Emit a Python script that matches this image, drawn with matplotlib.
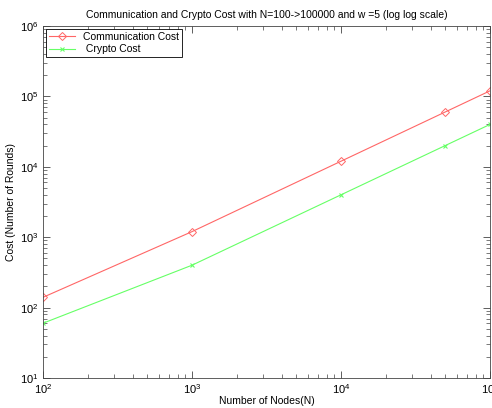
import matplotlib.pyplot as plt
from matplotlib.ticker import LogLocator, NullFormatter

plt.rcParams['font.family'] = ['Liberation Sans', 'DejaVu Sans']
plt.rcParams['font.size'] = 7.5

nodes = [100, 1000, 10000, 50000, 100000]
comm_cost = [140, 1200, 12000, 60000, 120000]
crypto_cost = [60, 400, 4000, 20000, 40000]

fig = plt.figure(figsize=(4.92, 4.08), dpi=100)
ax = fig.add_axes([43 / 492, 30 / 408, 447 / 492, 352 / 408])

ax.plot(nodes, comm_cost, color='#ff6666', lw=0.8, marker='D', ms=4.5,
        mfc='none', mec='#ff6666', mew=0.7, label='Communication Cost')
ax.plot(nodes, crypto_cost, color='#66ff66', lw=0.8, marker='x', ms=3,
        mew=0.8, label=' Crypto Cost')

ax.set_xscale('log')
ax.set_yscale('log')
ax.set_xlim(100, 100000)
ax.set_ylim(10, 1e6)
ax.xaxis.set_major_locator(LogLocator(base=10))
ax.yaxis.set_major_locator(LogLocator(base=10))
ax.xaxis.set_minor_locator(LogLocator(base=10, subs=range(2, 10)))
ax.yaxis.set_minor_locator(LogLocator(base=10, subs=range(2, 10)))
ax.xaxis.set_minor_formatter(NullFormatter())
ax.yaxis.set_minor_formatter(NullFormatter())
ax.tick_params(which='both', direction='in', top=True, right=True,
               color='#444444', labelsize=8)
ax.tick_params(axis='x', pad=3)
ax.tick_params(axis='y', pad=3)
ax.tick_params(which='major', length=5, width=0.6)
ax.tick_params(which='minor', length=3, width=0.5)
for s in ax.spines.values():
    s.set_linewidth(0.6)
    s.set_color('#444444')

ax.set_title('Communication and Crypto Cost with N=100->100000 and w =5 (log log scale)',
             fontsize=7.5, pad=6)
ax.set_xlabel('Number of Nodes(N)', fontsize=7.5, labelpad=0)
ax.set_ylabel('Cost (Number of Rounds)', fontsize=7.5, labelpad=3)

leg = ax.legend(loc='upper left', fancybox=False, edgecolor='black',
                framealpha=1, fontsize=7.5, borderaxespad=0.3,
                handlelength=2.5, borderpad=0.25, labelspacing=0.25)
leg.get_frame().set_linewidth(0.6)

plt.savefig('out.png', dpi=100)
